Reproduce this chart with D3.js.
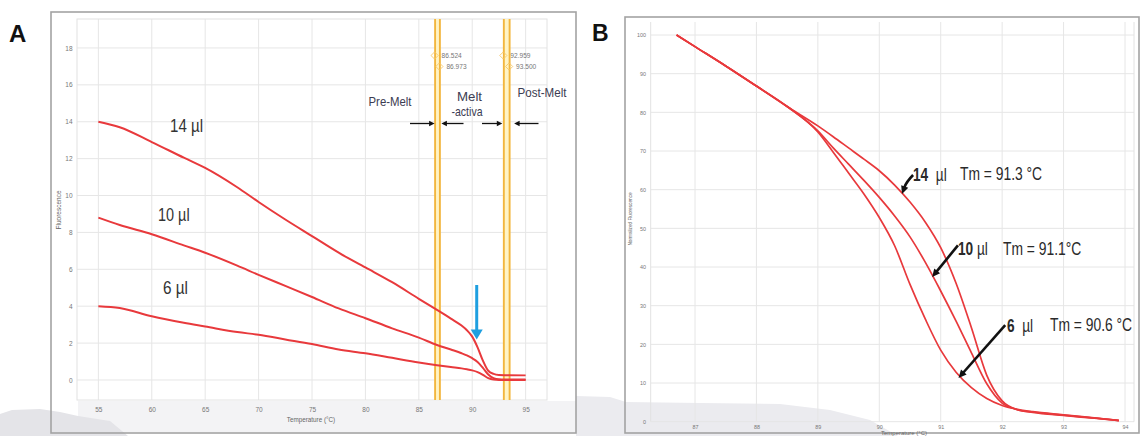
<!DOCTYPE html>
<html>
<head>
<meta charset="utf-8">
<script src="https://cdn.jsdelivr.net/npm/d3@7"></script>
<style>
  html, body { margin: 0; padding: 0; background: #fff; }
  svg { display: block; }
</style>
</head>
<body>
<svg id="fig" width="1143" height="436"></svg>
<script>
// ---------- Panel A: raw melt curves (fluorescence vs temperature) ----------
const tempA = [55, 57, 60, 63, 65, 68, 70, 72.5, 75, 77.5, 80, 82.5, 85, 86.7, 88, 89, 89.5, 90, 90.5, 91, 91.5, 92, 92.5, 93, 95];
const fluorA14 = [14.0, 13.7, 12.9, 12.05, 11.5, 10.45, 9.65, 8.7, 7.8, 6.9, 6.1, 5.3, 4.4, 3.8, 3.33, 2.95, 2.7, 2.35, 1.77, 1.05, 0.5, 0.33, 0.27, 0.26, 0.25];
const fluorA10 = [8.8, 8.4, 7.9, 7.3, 6.9, 6.2, 5.7, 5.1, 4.5, 3.88, 3.35, 2.8, 2.3, 1.9, 1.65, 1.45, 1.33, 1.18, 0.98, 0.66, 0.3, 0.1, 0.04, 0.03, 0.03];
const fluorA6 = [4.0, 3.9, 3.45, 3.1, 2.9, 2.6, 2.45, 2.2, 1.95, 1.65, 1.45, 1.2, 0.95, 0.8, 0.7, 0.63, 0.58, 0.52, 0.43, 0.28, 0.1, 0.02, 0, 0, 0];
const xTicksA = [55, 60, 65, 70, 75, 80, 85, 90, 95];
const yTicksA = [0, 2, 4, 6, 8, 10, 12, 14, 16, 18];
// melt-region bars (start / end temperatures of each bar)
const preMeltBar = [86.524, 86.973];
const postMeltBar = [92.959, 93.500];
const seriesNamesA = ["14 µl", "10 µl", "6 µl"];

// ---------- Panel B: normalized melt curves ----------
const tempB = [86.7, 87, 87.5, 88, 88.5, 89, 89.25, 89.5, 89.75, 90, 90.25, 90.5, 90.75, 91, 91.25, 91.5, 91.75, 92, 92.25, 92.5, 93, 93.5, 93.9];
const normB14 = [100, 97, 92, 86.8, 81.5, 76.5, 73.7, 70.8, 67.9, 64.9, 61.2, 56.8, 51.6, 45.0, 35.8, 24.3, 12.0, 5.4, 3.1, 2.4, 1.6, 0.9, 0.3];
const normB10 = [100, 97, 92, 86.8, 81.5, 75.2, 70.8, 66.6, 62.4, 58.0, 53.2, 47.8, 41.2, 33.8, 26.0, 17.8, 9.8, 4.8, 3.1, 2.5, 1.7, 0.95, 0.3];
const normB6 = [100, 97, 92, 86.8, 81.5, 74.9, 69.7, 64.3, 58.9, 52.8, 45.5, 35.5, 26.5, 18.5, 12.8, 8.8, 6.0, 4.2, 3.2, 2.6, 1.8, 1.0, 0.35];
const xTicksB = [87, 88, 89, 90, 91, 92, 93, 94];
const yTicksB = [0, 10, 20, 30, 40, 50, 60, 70, 80, 90, 100];
const volumesB = ["14", "10", "6"];
const unitsB = ["  µl", " µl", "  µl"];
const tmLabelsB = ["Tm = 91.3 °C", "Tm = 91.1°C", "Tm = 90.6 °C"];

const FONT = '"Liberation Sans", Arial, sans-serif';
const RED = "#e8393c";
const svg = d3.select("#fig");

// ---------- soft grey backdrop along the bottom edge ----------
const back = svg.append("g");
back.append("rect").attr("x", 78).attr("y", 401).attr("width", 498).attr("height", 31).attr("fill", "#f3f3f5");
back.append("path").attr("d", "M0,414 L12,410 L40,409 L60,412 L78,416 L110,421 L128,436 L0,436 Z").attr("fill", "#e4e4e8");
back.append("path")
  .attr("d", "M576,436 L576,396 L610,397 L626,402 L700,403 L780,404 L830,410 L870,420 L898,436 Z")
  .attr("fill", "#ebebef");

// ---------- helpers ----------
function arrow(g, x1, y1, x2, y2, o) {
  const dx = x2 - x1, dy = y2 - y1, L = Math.hypot(dx, dy);
  const ux = dx / L, uy = dy / L;
  const bx = x2 - ux * o.hl, by = y2 - uy * o.hl;
  g.append("line").attr("x1", x1).attr("y1", y1).attr("x2", bx + ux).attr("y2", by + uy)
    .attr("stroke", o.color).attr("stroke-width", o.w);
  g.append("path")
    .attr("d", `M${x2},${y2}L${bx - uy * o.hw / 2},${by + ux * o.hw / 2}L${bx + uy * o.hw / 2},${by - ux * o.hw / 2}Z`)
    .attr("fill", o.color);
}
function curvedArrow(g, x1, y1, cx, cy, x2, y2, o) {
  const dx = x2 - cx, dy = y2 - cy, L = Math.hypot(dx, dy);
  const ux = dx / L, uy = dy / L;
  const bx = x2 - ux * o.hl, by = y2 - uy * o.hl;
  g.append("path").attr("d", `M${x1},${y1}Q${cx},${cy} ${bx + ux},${by + uy}`)
    .attr("fill", "none").attr("stroke", o.color).attr("stroke-width", o.w);
  g.append("path")
    .attr("d", `M${x2},${y2}L${bx - uy * o.hw / 2},${by + ux * o.hw / 2}L${bx + uy * o.hw / 2},${by - ux * o.hw / 2}Z`)
    .attr("fill", o.color);
}
// condensed text: drawn at natural size, squeezed horizontally
function narrowText(g, x, y, sx, size) {
  return g.append("g").attr("transform", `translate(${x},${y}) scale(${sx},1)`)
    .append("text").attr("x", 0).attr("y", 0)
    .attr("font-family", FONT).attr("font-size", size).attr("fill", "#2a2a2a")
    .attr("xml:space", "preserve").style("white-space", "pre");
}

// ================= Panel A =================
const plotA = { left: 77, right: 547, top: 19, bottom: 400 };
const xA = d3.scaleLinear().domain([53, 97]).range([plotA.left, plotA.right]);
const yA = d3.scaleLinear().domain([-1.085, 19.57]).range([plotA.bottom, plotA.top]);
const gA = svg.append("g");

// frame
gA.append("rect").attr("x", 51).attr("y", 12).attr("width", 525).attr("height", 421)
  .attr("fill", "none").attr("stroke", "#a3a3a3").attr("stroke-width", 1.6);

// grid
gA.append("g").selectAll("line").data(xTicksA).join("line")
  .attr("x1", d => xA(d)).attr("x2", d => xA(d)).attr("y1", plotA.top).attr("y2", plotA.bottom)
  .attr("stroke", "#e6e6e6").attr("stroke-width", 1);
gA.append("g").selectAll("line").data(yTicksA).join("line")
  .attr("x1", plotA.left).attr("x2", plotA.right).attr("y1", d => yA(d)).attr("y2", d => yA(d))
  .attr("stroke", "#e6e6e6").attr("stroke-width", 1);
gA.append("rect").attr("x", plotA.left).attr("y", plotA.top)
  .attr("width", plotA.right - plotA.left).attr("height", plotA.bottom - plotA.top)
  .attr("fill", "none").attr("stroke", "#e2e2e2");

// axes (labels only)
const axA_x = gA.append("g").attr("transform", `translate(0,${plotA.bottom})`)
  .call(d3.axisBottom(xA).tickValues(xTicksA).tickSize(0).tickPadding(7.5).tickFormat(d3.format("d")));
const axA_y = gA.append("g").attr("transform", `translate(${plotA.left},0)`)
  .call(d3.axisLeft(yA).tickValues(yTicksA).tickSize(0).tickPadding(4.5).tickFormat(d3.format("d")));
[axA_x, axA_y].forEach(a => {
  a.select(".domain").remove();
  a.selectAll("text").attr("font-family", FONT).attr("font-size", 6.5).attr("fill", "#777");
});
gA.append("text").attr("x", 311).attr("y", 421.5).attr("text-anchor", "middle")
  .attr("font-family", FONT).attr("font-size", 6.3).attr("fill", "#666").text("Temperature (°C)");
gA.append("text").attr("transform", "translate(61,210) rotate(-90)").attr("text-anchor", "middle")
  .attr("font-family", FONT).attr("font-size", 6.5).attr("fill", "#666").text("Fluorescence");

// melt-region bars
[preMeltBar, postMeltBar].forEach(bar => {
  gA.append("rect").attr("x", xA(bar[0])).attr("y", plotA.top)
    .attr("width", xA(bar[1]) - xA(bar[0])).attr("height", plotA.bottom - plotA.top)
    .attr("fill", "#fff4c6");
  bar.forEach((t, i) => {
    gA.append("line").attr("x1", xA(t)).attr("x2", xA(t)).attr("y1", plotA.top).attr("y2", plotA.bottom)
      .attr("stroke", "#f2b63e").attr("stroke-width", 1.9);
    const yy = i === 0 ? 55.5 : 66.5;
    gA.append("path").attr("d", `M${xA(t) - 0.5},${yy - 3.6}L${xA(t) + 3.1},${yy}L${xA(t) - 0.5},${yy + 3.6}L${xA(t) - 4.1},${yy}Z`)
      .attr("fill", "none").attr("stroke", "#f6c869").attr("stroke-width", 0.9);
    gA.append("text").attr("x", xA(t) + 6.5).attr("y", yy + 2.3)
      .attr("font-family", FONT).attr("font-size", 6.6).attr("fill", "#777").text(t.toFixed(3));
  });
});

// curves
const lineA = d3.line().x(d => xA(d[0])).y(d => yA(d[1])).curve(d3.curveMonotoneX);
[fluorA14, fluorA10, fluorA6].forEach(vals => {
  gA.append("path").datum(tempA.map((t, i) => [t, vals[i]]))
    .attr("d", lineA).attr("fill", "none").attr("stroke", RED).attr("stroke-width", 2)
    .attr("stroke-linejoin", "round");
});

// series labels
const labPosA = [{ x: 170, y: 132, len: 33 }, { x: 158, y: 220.5, len: 31.6 }, { x: 163, y: 294, len: 25 }];
seriesNamesA.forEach((s, i) => {
  gA.append("text").attr("x", labPosA[i].x).attr("y", labPosA[i].y)
    .attr("textLength", labPosA[i].len).attr("lengthAdjust", "spacingAndGlyphs")
    .attr("font-family", FONT).attr("font-size", 19).attr("fill", "#333").text(s);
});

// region labels
const regionText = [
  { t: "Pre-Melt", x: 368.5, y: 105.5, len: 43 },
  { t: "Melt", x: 457, y: 100.5, len: 25 },
  { t: "-activa", x: 451.5, y: 115.5, len: 31 },
  { t: "Post-Melt", x: 517.5, y: 96.5, len: 49 }
];
regionText.forEach(r => {
  gA.append("text").attr("x", r.x).attr("y", r.y).attr("textLength", r.len).attr("lengthAdjust", "spacingAndGlyphs")
    .attr("font-family", FONT).attr("font-size", 13).attr("fill", "#3c3c52").text(r.t);
});

// boundary arrows
const thin = { w: 1.3, hl: 5.5, hw: 5.5, color: "#111" };
arrow(gA, 410, 123.5, xA(preMeltBar[0]) - 0.5, 123.5, thin);
arrow(gA, 463.5, 123.5, xA(preMeltBar[1]) + 1.5, 123.5, thin);
arrow(gA, 482, 123.5, xA(postMeltBar[0]) - 1.5, 123.5, thin);
arrow(gA, 538.5, 123.5, xA(postMeltBar[1]) + 4.5, 123.5, thin);

// blue marker arrow at the melt transition
arrow(gA, xA(90.42), yA(5.15), xA(90.42), yA(2.2), { w: 3, hl: 10, hw: 12, color: "#1e9fe0" });

// panel letter
svg.append("text").attr("x", 9).attr("y", 42).attr("font-family", FONT).attr("font-weight", "bold")
  .attr("font-size", 24).attr("fill", "#111").text("A");

// ================= Panel B =================
const plotB = { left: 650.7, right: 1134, top: 22, bottom: 421.7 };
const xB = d3.scaleLinear().domain([87, 94]).range([695, 1125]);
const yB = d3.scaleLinear().domain([0, 100]).range([421.7, 35]);
const gB = svg.append("g");

gB.append("rect").attr("x", 625).attr("y", 17).attr("width", 514).attr("height", 416)
  .attr("fill", "none").attr("stroke", "#a3a3a3").attr("stroke-width", 1.6);

gB.append("g").selectAll("line").data(xTicksB).join("line")
  .attr("x1", d => xB(d)).attr("x2", d => xB(d)).attr("y1", plotB.top).attr("y2", plotB.bottom)
  .attr("stroke", "#e6e6e6");
gB.append("g").selectAll("line").data(yTicksB).join("line")
  .attr("x1", plotB.left).attr("x2", plotB.right).attr("y1", d => yB(d)).attr("y2", d => yB(d))
  .attr("stroke", "#e6e6e6");
gB.append("line").attr("x1", plotB.left).attr("x2", plotB.left).attr("y1", plotB.top).attr("y2", plotB.bottom)
  .attr("stroke", "#e2e2e2");
gB.append("line").attr("x1", plotB.right).attr("x2", plotB.right).attr("y1", plotB.top).attr("y2", plotB.bottom)
  .attr("stroke", "#e2e2e2");

const axB_x = gB.append("g").attr("transform", `translate(0,${plotB.bottom})`)
  .call(d3.axisBottom(xB).tickValues(xTicksB).tickSize(0).tickPadding(3.3).tickFormat(d3.format("d")));
const axB_y = gB.append("g").attr("transform", `translate(${plotB.left},0)`)
  .call(d3.axisLeft(yB).tickValues(yTicksB).tickSize(0).tickPadding(4.7).tickFormat(d3.format("d")));
[axB_x, axB_y].forEach(a => {
  a.select(".domain").remove();
  a.selectAll("text").attr("font-family", FONT).attr("font-size", 5.4).attr("fill", "#777");
});
gB.append("text").attr("x", 904).attr("y", 435).attr("text-anchor", "middle")
  .attr("font-family", FONT).attr("font-size", 6).attr("fill", "#666").text("Temperature (°C)");
gB.append("text").attr("transform", "translate(632,219) rotate(-90)").attr("text-anchor", "middle")
  .attr("font-family", FONT).attr("font-size", 4.7).attr("fill", "#666").text("Normalized Fluorescence");

const lineB = d3.line().x(d => xB(d[0])).y(d => yB(d[1])).curve(d3.curveMonotoneX);
[normB14, normB10, normB6].forEach(vals => {
  gB.append("path").datum(tempB.map((t, i) => [t, vals[i]]))
    .attr("d", lineB).attr("fill", "none").attr("stroke", RED).attr("stroke-width", 1.7)
    .attr("stroke-linejoin", "round");
});

// annotations: volume + melting temperature
const labPosB = [
  { vx: 913, tx: 960, y: 180.5 },
  { vx: 958, tx: 1003, y: 255 },
  { vx: 1007, tx: 1050, y: 331.5 }
];
volumesB.forEach((v, i) => {
  const p = labPosB[i];
  const t = narrowText(gB, p.vx, p.y, 0.76, 18);
  t.append("tspan").attr("font-weight", "bold").text(v);
  t.append("tspan").text(unitsB[i]);
  narrowText(gB, p.tx, p.y - 0.5, 0.77, 18).text(tmLabelsB[i]);
});

// pointer arrows onto each curve
const thick = { w: 2.6, hl: 8, hw: 7.5, color: "#111" };
curvedArrow(gB, xB(90.55), yB(63.8), xB(90.44), yB(62.0), xB(90.37), yB(58.9), thick);
arrow(gB, xB(91.28), yB(45.6), xB(90.86), yB(37.4), thick);
arrow(gB, xB(92.05), yB(25.0), xB(91.29), yB(11.3), thick);

svg.append("text").attr("x", 592).attr("y", 41).attr("font-family", FONT).attr("font-weight", "bold")
  .attr("font-size", 23).attr("fill", "#111").text("B");
</script>
</body>
</html>
